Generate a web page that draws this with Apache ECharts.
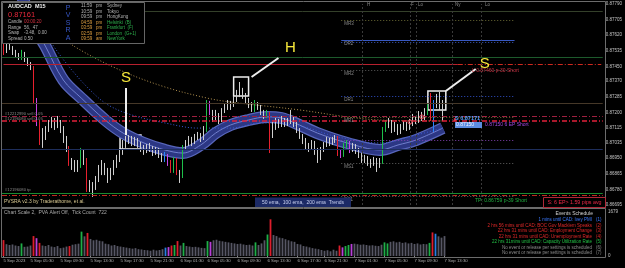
<!DOCTYPE html>
<html>
<head>
<meta charset="utf-8">
<script src="https://cdn.jsdelivr.net/npm/echarts@6.0.0/dist/echarts.min.js"></script>
<style>
html,body{margin:0;padding:0;background:#000;}
#chart{width:625px;height:268px;}
</style>
</head>
<body>
<div id="chart"></div>
<script>
// ---------- DATA (prices in points of 0.00001) ----------
const firstOpen = 87561;
const closes = [
87529,87567,87550,87529,87512,87496,87523,87496,87469,87441,
87267,87147,87060,87082,87104,87125,87147,87131,87153,87114,
87060,87006,86929,86913,86897,86919,86995,86940,86788,86810,
86788,86831,86875,86913,86886,86842,86875,86913,86940,86984,
87022,87049,87060,87038,87049,87022,87006,86995,87016,87006,
86984,86995,86968,86951,86968,86924,86886,86940,86875,86853,
87006,87033,87049,87038,87060,87071,87060,87104,87251,87202,
87169,87191,87158,87202,87223,87245,87234,87267,87294,87311,
87289,87267,87245,87213,87245,87229,87202,87180,87196,87076,
87114,87147,87131,87158,87136,87153,87169,87136,87104,87071,
87049,87022,87006,87033,86995,86951,86995,87022,87049,87033,
87049,87060,86978,86962,87022,87038,86995,87016,86995,86968,
86940,86951,86929,86919,86940,86908,86929,87104,87125,87147,
87104,87131,87093,87120,87131,87114,87136,87169,87153,87185,
87169,87202,87229,87169,87234,87256,87240,87161];
const highs = [
87572,87583,87572,87561,87540,87523,87540,87529,87501,87474,
87452,87278,87158,87114,87125,87158,87175,87169,87180,87158,
87125,87071,87016,86951,86940,86940,87006,86995,86951,86831,
86820,86853,86913,86940,86924,86897,86897,86940,86968,87006,
87049,87071,87076,87071,87066,87060,87038,87022,87027,87033,
87016,87011,87006,86978,86984,86973,86940,86957,86951,86886,
87022,87049,87071,87066,87082,87093,87087,87125,87267,87262,
87213,87213,87196,87223,87245,87267,87262,87289,87322,87365,
87333,87305,87278,87256,87267,87256,87240,87213,87213,87202,
87147,87169,87164,87180,87169,87169,87213,87180,87147,87114,
87082,87060,87033,87049,87044,87006,87011,87038,87066,87060,
87066,87076,87071,86995,87033,87049,87044,87033,87027,87006,
86978,86968,86962,86946,86957,86951,86951,87120,87158,87169,
87158,87147,87136,87136,87153,87147,87164,87191,87180,87207,
87202,87223,87245,87305,87267,87300,87311,87267];
const lows = [
87512,87523,87540,87512,87496,87485,87485,87474,87452,87430,
87245,87125,87022,87006,87049,87093,87114,87104,87114,87087,
87033,86984,86908,86886,86875,86875,86897,86913,86766,86766,
86739,86777,86820,86858,86858,86815,86831,86858,86897,86929,
86968,87006,87027,87016,87016,87006,86984,86968,86978,86984,
86962,86968,86951,86929,86929,86908,86870,86870,86858,86815,
86842,86995,87016,87016,87027,87049,87038,87049,87093,87185,
87147,87158,87136,87147,87196,87213,87213,87229,87256,87283,
87273,87245,87223,87202,87202,87213,87185,87164,87169,86978,
87060,87104,87114,87120,87120,87125,87136,87120,87087,87055,
87027,87000,86984,86995,86968,86924,86940,86984,87011,87016,
87022,87033,86962,86951,86957,87006,86978,86984,86973,86951,
86924,86924,86908,86897,86908,86875,86897,86919,87093,87114,
87087,87093,87076,87082,87104,87098,87104,87125,87136,87142,
87153,87158,87185,87153,87093,87223,87213,87153];
const volumes = [
607,450,420,440,400,380,480,350,360,400,
760,680,500,400,380,420,360,340,380,300,
320,360,380,430,450,470,930,750,880,650,
600,620,580,560,470,450,400,420,380,360,
340,320,300,280,300,260,250,230,220,200,
240,210,230,260,320,340,400,420,570,400,
500,380,360,340,350,330,310,300,570,540,
600,620,580,560,540,520,500,480,460,470,
440,420,430,400,520,420,480,600,820,1400,
800,760,700,680,640,600,560,540,460,440,
380,360,330,300,280,260,230,200,220,180,
240,200,400,330,380,420,460,470,450,430,
440,420,400,410,390,380,430,520,480,540,
560,520,540,500,520,480,500,460,480,440,
460,450,500,900,850,750,700,760];
// PVSRA volume class per bar (g climax bull, r climax bear, b rising bull, p rising bear)
const pvsraClass = {0:'r',6:'g',10:'r',11:'p',12:'r',22:'r',26:'g',28:'r',54:'b',55:'p',56:'r',57:'g',58:'r',60:'g',68:'g',69:'p',84:'g',88:'g',89:'r',112:'r',113:'p',114:'g',115:'g',116:'p',127:'g',128:'g',142:'g',143:'r',144:'b'};
// moving averages sampled at bar indexes
const ema50 = [[6,87839],[8,87758],[11,87643],[14,87561],[20,87376],[26,87278],[34,87158],[40,87087],[47,87033],[54,86995],[60,86978],[66,87022],[71,87087],[76,87131],[82,87158],[88,87175],[93,87169],[99,87131],[105,87087],[115,87033],[126,86995],[132,87022],[138,87049],[147,87114]];
const ema100 = [[10,87730],[16,87578],[22,87447],[29,87321],[35,87240],[43,87185],[54,87142],[65,87114],[76,87114],[86,87142],[99,87125],[112,87065],[126,87033],[138,87076],[147,87114]];
const ema200 = [[14,87676],[24,87556],[39,87430],[54,87338],[68,87278],[76,87256],[99,87213],[115,87175],[126,87158],[147,87153]];
// levels
const srLevels = [87752, 87501, 87251, 87000];
const entryLevel = 87460;
const orderLevels = [87180, 87153];
const tpLevels = [86759, 86748];
const pivotNames = ['MR3','DR2','','MR2','DR1','MR1','','MS1','DS1'];
const pivotValues = [87703, 87594, 87583, 87430, 87289, 87175, 87049, 86924, 86744];
const sessionNames = ['H','F','Lo','Ny','Lo'];
const sessionIdx = [120,136,138,150,160];
const currentBid = 87161;
// axes
const priceTicks = [87790,87705,87620,87535,87450,87370,87285,87200,87115,87035,86950,86865,86780,86695];
const timeTickIdx = [0,9,19,29,39,49,59,68,78,88,98,107,117,127,137,147];
const timeLabels = ['5 Sep 2023','5 Sep 05:30','5 Sep 09:30','5 Sep 13:30','5 Sep 17:30','5 Sep 21:30','6 Sep 01:30','6 Sep 05:30','6 Sep 09:30','6 Sep 13:30','6 Sep 17:30','6 Sep 21:30','7 Sep 01:30','7 Sep 05:30','7 Sep 09:30','7 Sep 13:30'];
const volMax = 1679;
// texts
const infoRows = [['Candle','00:00:20'],['Range','56,  47'],['Swap','-3.48,  0.00'],['Spread','0.50']];
const clockRows = [['11:59','pm','Sydney'],['10:59','pm','Tokyo'],['09:59','pm','HongKong'],['04:59','pm','Helsinki  (B)'],['03:59','pm','Frankfurt  (F)'],['02:59','pm','London  (G+1)'],['09:59','am','NewYork']];
const events = [
 ['1 mins until CAD: Ivey PMI','(1)'],
 ['2 hrs 56 mins until CAD: BOC Gov Macklem Speaks','(2)'],
 ['22 hrs 31 mins until CAD: Employment Change','(3)'],
 ['22 hrs 31 mins until CAD: Unemployment Rate','(4)'],
 ['22 hrs 31mins until CAD: Capacity Utilization Rate','(5)'],
 ['No event or release per settings is scheduled','(6)'],
 ['No event or release per settings is scheduled','(7)']];

// ---------- BUILD ----------
const FONT = '"Liberation Sans", Arial, sans-serif';
const NSLOT = 201;
const cats = Array.from({length:NSLOT}, (_, i) => String(i));
const CC = {n:['#d0d0d0','#8c8c8c'], g:['#1ec04a','#1ec04a'], r:['#e8202e','#e8202e'], b:['#2a84ff','#2a84ff'], p:['#c845e8','#c845e8']};
const VC = {n:'#565664', g:'#1fae48', r:'#dd1e2c', b:'#2a7ee0', p:'#b840d8'};
const candleData = closes.map((c,i)=>{
  const o = i===0 ? firstOpen : closes[i-1];
  const k = pvsraClass[i] || 'n';
  return {value:[o,c,lows[i],highs[i]], itemStyle:{color:CC[k][0],color0:CC[k][1],borderColor:CC[k][0],borderColor0:CC[k][1]}};
});
const volData = volumes.map((v,i)=>({value:v, itemStyle:{color:VC[pvsraClass[i]||'n']}}));

const DD = [5,2,1,2];
const srStyle = [['#34402a','solid'],['#1d5a2c','solid'],['#463828','solid'],['#1e2e5c','solid']];
const pivStyle = [['#6a6a34',[1,2],1],['#3858c0','solid',1.2],['#3858c0',[1,2],1],['#5a5a5a',[1,2],1],['#3050c8',[1,2],1],['#6a6a34',[1,2],1],['#8040b0',[1,2],1],['#606060',[1,2],1],['#606060',[1,2],1]];
const lvl = [];
srLevels.forEach((v,i)=>lvl.push({yAxis:v, lineStyle:{color:srStyle[i][0], type:srStyle[i][1], width:1}}));
lvl.push([{coord:[0,entryLevel], lineStyle:{color:'#b8202e',type:'solid',width:1}},{coord:[152,entryLevel]}]);
lvl.push([{coord:[152,entryLevel], lineStyle:{color:'#d02a20',type:DD,width:1.2}},{coord:[NSLOT-1,entryLevel]}]);
lvl.push({yAxis:orderLevels[0], lineStyle:{color:'#a02040',type:DD,width:1}});
lvl.push({yAxis:orderLevels[1], lineStyle:{color:'#e0203a',type:DD,width:1.5}});
lvl.push({yAxis:tpLevels[0], lineStyle:{color:'#1a8a30',type:'solid',width:1}});
lvl.push({yAxis:tpLevels[1], lineStyle:{color:'#c02a20',type:DD,width:1}});
pivotValues.forEach((v,i)=>{
  const s = pivStyle[i];
  lvl.push([{coord:[113,v], lineStyle:{color:s[0],type:s[1],width:s[2]},
    label:{show:!!pivotNames[i], formatter:pivotNames[i], position:'insideStartBottom', distance:[3,1], color:'#8a8a8a', fontSize:4.5, fontFamily:FONT}},{coord:[171,v]}]);
});
sessionIdx.forEach(ix=>lvl.push({xAxis:ix, lineStyle:{color:'#3a3a3a',type:[2,2],width:1}}));
lvl.push({yAxis:currentBid, lineStyle:{opacity:0}, label:{show:true, position:'end', distance:1, formatter:(currentBid/1e5).toFixed(5), backgroundColor:'#d4d4d4', color:'#000', fontSize:4.5, fontFamily:FONT, padding:[1,1,0,1]}});

const W = '#eeeeee';
const notesArea = [
  [{coord:[39,87076]},{coord:[46,87000]}],
  [{coord:[77,87392]},{coord:[82,87289]}],
  [{coord:[142,87316]},{coord:[148,87213]}]];
const notesLines = [
  [{coord:[41,87333]},{coord:[41,87076]}],
  [{coord:[92,87496]},{coord:[83,87392]}],
  [{coord:[158,87436]},{coord:[148,87316]}]];
const notesPts = [
  {coord:[41,87390], value:'S'},
  {coord:[96,87550], value:'H'},
  {coord:[161,87463], value:'S'},
  {coord:[136,87147], value:'', symbol:'circle', symbolSize:4, itemStyle:{color:'rgba(0,0,0,0)',borderColor:'#e04a5a',borderWidth:1}},
  {coord:[140,87175], value:'', symbol:'circle', symbolSize:4, itemStyle:{color:'rgba(0,0,0,0)',borderColor:'#e04a5a',borderWidth:1}},
  {coord:[151,87160], value:'', symbol:'rect', symbolSize:[2,3], itemStyle:{color:'#e03040'}}];

function T(x,y,text,fill,size,o){ o=o||{}; return {type:'text', x:x, y:y, z:101, silent:true,
  style:{text:text, fill:fill, font:(o.bold?'bold ':'')+size+'px '+FONT, align:o.align||'left', verticalAlign:'middle'}}; }
function R(x,y,w,h,fill,stroke,lw){ return {type:'rect', z:100, silent:true, shape:{x:x,y:y,width:w,height:h}, style:{fill:fill, stroke:stroke, lineWidth:lw||1}}; }

const G = [];
G.push(R(1.5,1.5,604,206,null,'#6c6c6c'));
G.push(R(1.5,208.5,604,49,null,'#6c6c6c'));
// info panel
G.push(R(2.5,2.5,142,41,'#000','#666666'));
G.push(T(8,6.5,'AUDCAD  M15','#f0f0f0',5.5,{bold:true}));
G.push(T(8,14.5,'0.87161','#e8283c',7.5));
infoRows.forEach((r,i)=>{ const y=22+i*5.5; G.push(T(8,y,r[0],'#b4b4b4',4.5)); G.push(T(24,y,r[1], i===0?'#d83040':'#b4b4b4',4.5)); });
'PVSRA'.split('').forEach((ch,i)=>G.push(T(68,8+i*7.5,ch,'#3858c8',7,{align:'center'})));
clockRows.forEach((r,i)=>{ const y=6+i*5.5; const hi=i>=3;
  G.push(T(81,y,r[0],hi?'#e0a040':'#b4b4b4',4.5)); G.push(T(96,y,r[1],hi?'#e0a040':'#b4b4b4',4.5));
  G.push(T(107,y,r[2],hi?'#2cb04c':'#b4b4b4',4.5)); });
// session labels
const sessX=[367,411,418,455,485];
sessionNames.forEach((s,i)=>G.push(T(sessX[i],4.5,s,'#8a8a8a',4.5)));
// order labels
G.push(T(5,113.5,'#12212990 sell 0.05','#8a8a8a',4.2));
G.push(T(5,118.5,'#12196080 sell 0.05','#8a8a8a',4.2));
G.push(T(5,190,'#12196080 tp','#8a8a8a',4.2));
G.push(T(472,70.5,'L 0.87460 p-30 Short','#c83040',5));
G.push(T(455,118.5,'S 0.87171','#5aa0ff',5.5,{bold:true}));
G.push(R(455,122,27,6,'#5c8ce0',null));
G.push(T(456,125,'0.87150','#eef4ff',5));
G.push(T(485,125,'0.87150 6 EP Short','#a048e0',5));
// bottom of main panel
G.push(T(4,202,'PVSRA v2.3 by Traderathome, et al.','#d8c890',5));
G.push(R(255,197.5,96,9.5,'#1c2a66',null));
G.push(T(303,202.3,'50 ema,  100 ema,  200 ema  Trends','#c8d0f0',5,{align:'center'}));
G.push(T(475,200.5,'TP: 0.86759 p-39 Short','#20b040',5));
G.push(R(543.5,197.5,62,10,null,'#b02838'));
G.push(T(574.5,202.6,'S: 6 EP> 1.59 pips avg','#f02848',5.3,{align:'center'}));
// sub panel
G.push(T(4,213,'Chart Scale 2,  PVA Alert Off,  Tick Count  722','#a8a8a8',5));
G.push(T(593,214,'Events Schedule','#d4d4d4',5,{align:'right'}));
const evC = ['#3a78ff','#e02828','#e02828','#e02828','#22c044','#8c8c8c','#8c8c8c'];
events.forEach((e,i)=>{ const y=220+i*5.5; G.push(T(592,y,e[0],evC[i],4.5,{align:'right'})); G.push(T(596,y,e[1],evC[i],4.5)); });

const option = {
  backgroundColor:'#000',
  animation:false,
  grid:[{left:2, top:4, width:603, height:201},{left:2, top:212, width:603, height:44}],
  xAxis:[
    {type:'category', gridIndex:0, data:cats, show:false, boundaryGap:true},
    {type:'category', gridIndex:1, data:cats, boundaryGap:true,
      axisLine:{show:false},
      axisTick:{show:true, alignWithLabel:true, length:2, lineStyle:{color:'#8a8a8a'}, interval:(i)=>timeTickIdx.includes(i)},
      axisLabel:{show:true, interval:(i)=>timeTickIdx.includes(i), formatter:(v,i)=>timeLabels[timeTickIdx.indexOf(Number(v))]||'',
        align:'left', margin:3, fontSize:4.3, color:'#b0b0b0', fontFamily:FONT}}
  ],
  yAxis:[
    {type:'value', gridIndex:0, position:'right', min:86695, max:87790, interval:5,
      axisLine:{show:false}, axisTick:{show:false}, splitLine:{show:false},
      axisLabel:{margin:3, fontSize:4.5, color:'#c4c4c4', fontFamily:FONT,
        formatter:(v)=>priceTicks.includes(Math.round(v)) ? (Math.round(v)/1e5).toFixed(5) : ''}},
    {type:'value', gridIndex:1, position:'right', min:0, max:volMax, interval:volMax,
      axisLine:{show:false}, axisTick:{show:false}, splitLine:{show:false},
      axisLabel:{margin:3, fontSize:4.5, color:'#c4c4c4', fontFamily:FONT, formatter:(v)=>String(Math.round(v))}}
  ],
  series:[
    {type:'line', name:'levels', xAxisIndex:0, yAxisIndex:0, data:[], z:1,
      markLine:{silent:true, symbol:['none','none'], animation:false, label:{show:false}, data:lvl}},
    {type:'line', name:'band edge', data:ema50, smooth:0.35, showSymbol:false, z:2, lineStyle:{color:'#5866ba', width:12}},
    {type:'line', name:'band', data:ema50, smooth:0.35, showSymbol:false, z:2, lineStyle:{color:'#2c3784', width:9.5}},
    {type:'line', name:'band mid', data:ema50, smooth:0.35, showSymbol:false, z:2, lineStyle:{color:'#8392e0', width:0.8}},
    {type:'line', name:'ema100', data:ema100, smooth:0.35, showSymbol:false, z:2, lineStyle:{color:'#3a5ad8', width:1, type:[1,2]}},
    {type:'line', name:'ema200', data:ema200, smooth:0.35, showSymbol:false, z:2, lineStyle:{color:'#b49350', width:1, type:[1,2]}},
    {type:'candlestick', name:'AUDCAD', xAxisIndex:0, yAxisIndex:0, data:candleData, barWidth:1.2, z:3,
      itemStyle:{borderWidth:1}},
    {type:'line', name:'notes', xAxisIndex:0, yAxisIndex:0, data:[], z:5,
      markArea:{silent:true, itemStyle:{color:'rgba(0,0,0,0)', borderColor:W, borderWidth:1.5}, data:notesArea},
      markLine:{silent:true, symbol:['none','none'], label:{show:false}, lineStyle:{color:W, width:2, type:'solid'}, data:notesLines},
      markPoint:{silent:true, symbol:'rect', symbolSize:1, itemStyle:{color:'rgba(0,0,0,0)'},
        label:{show:true, position:'inside', formatter:'{c}', color:'#f7e83a', fontSize:15, fontFamily:FONT}, data:notesPts}},
    {type:'bar', name:'volume', xAxisIndex:1, yAxisIndex:1, data:volData, barWidth:1.8, z:2}
  ],
  graphic:{elements:G}
};
const chart = echarts.init(document.getElementById('chart'));
chart.setOption(option);
</script>
</body>
</html>
